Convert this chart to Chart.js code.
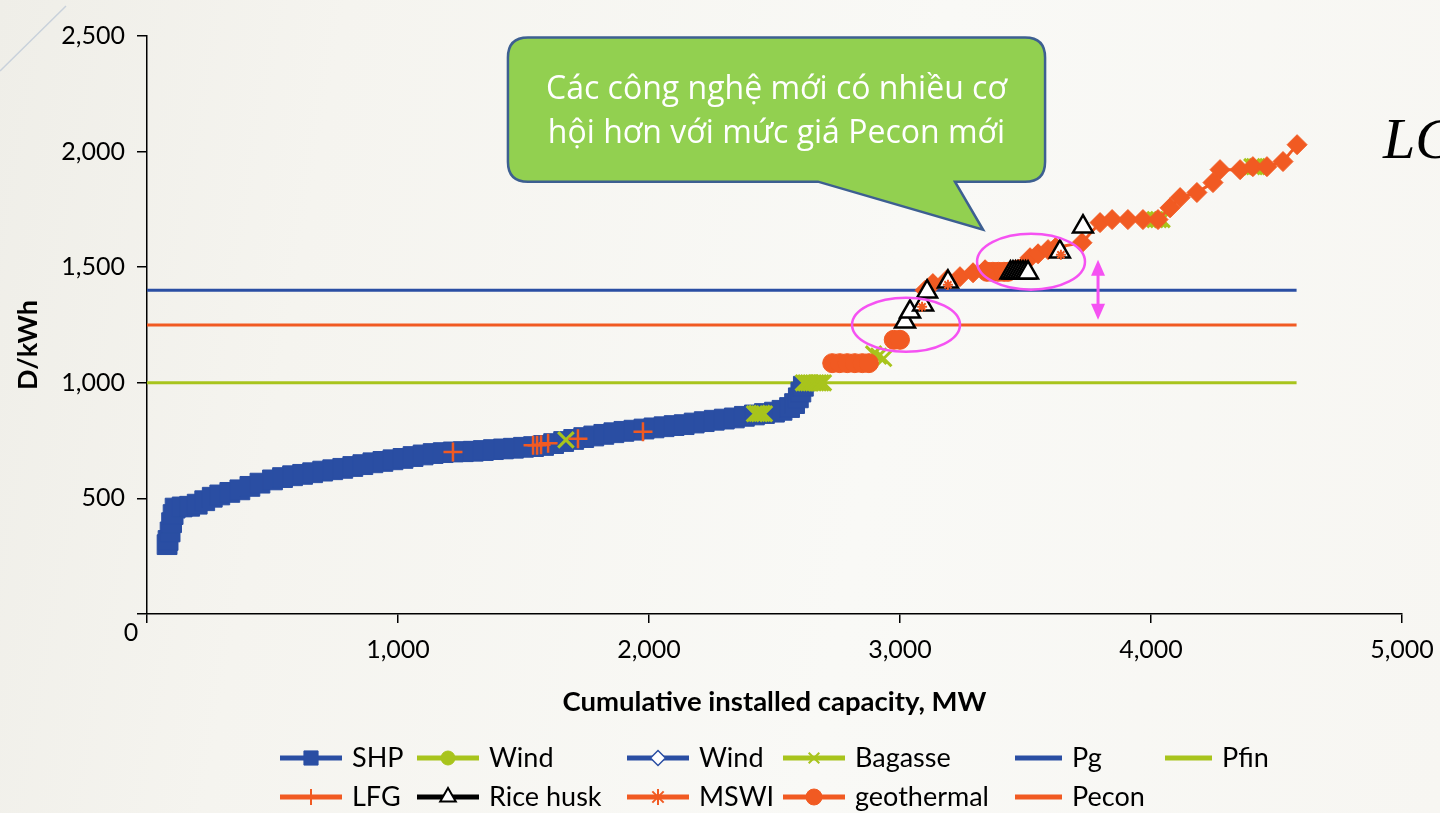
<!DOCTYPE html>
<html>
<head>
<meta charset="utf-8">
<script src="https://cdn.jsdelivr.net/npm/chart.js@4.4.1/dist/chart.umd.min.js"></script>
<style>
  html, body { margin: 0; padding: 0; }
  body {
    width: 1440px; height: 813px; overflow: hidden;
    background: linear-gradient(100deg, #EFEEE8 0%, #F5F4EF 22%, #F9F9F6 60%, #F7F6F2 100%);
  }
  #wrap { position: relative; width: 1440px; height: 813px; }
</style>
</head>
<body>
<div id="wrap"><canvas id="chart"></canvas></div>
<script>
// ---- axis ticks ----
const xTicks = [0, 1000, 2000, 3000, 4000, 5000];
const yTicks = [0, 500, 1000, 1500, 2000, 2500];

// ---- SHP supply curve (cumulative MW, D/kWh) ----
const shpMW = [80, 84, 92, 98, 104, 112, 140, 170, 200, 230, 260, 290, 330, 370, 410, 450, 500, 540, 580, 620,
  660, 700, 740, 780, 820, 860, 900, 940, 980, 1020, 1060, 1100, 1140, 1180, 1220, 1260, 1300, 1340, 1380, 1420,
  1460, 1500, 1540, 1580, 1620, 1660, 1700, 1740, 1780, 1820, 1860, 1900, 1940, 1980, 2020, 2060, 2100, 2140,
  2180, 2220, 2260, 2300, 2340, 2380, 2420, 2460, 2500, 2530, 2560, 2580, 2595, 2605, 2615];
const shpPrice = [300, 318, 355, 395, 430, 458, 463, 466, 475, 490, 505, 515, 526, 537, 552, 566, 580, 590, 598, 604,
  611, 618, 624, 630, 638, 646, 654, 660, 667, 673, 681, 688, 694, 698, 701, 702, 704, 707, 711, 714,
  717, 721, 724, 729, 737, 746, 755, 763, 770, 777, 784, 790, 795, 800, 805, 810, 815, 819,
  826, 832, 838, 843, 848, 855, 861, 867, 873, 881, 893, 910, 935, 960, 985];

// ---- wind (two series) ----
const windMW = [];
const windPrice = [];
const wind2MW = [];
const wind2Price = [];

// ---- bagasse ----
const bagasseMW = [1669, 2420, 2430, 2440, 2450, 2460, 2615, 2625, 2635, 2645, 2655, 2665, 2675, 2685, 2695,
  2895, 2915, 2935, 4016, 4030, 4044, 4402, 4412, 4422];
const bagassePrice = [753, 866, 868, 866, 868, 866, 1000, 1000, 1000, 1000, 1000, 1000, 1000, 1000, 1000,
  1125, 1115, 1105, 1706, 1706, 1706, 1935, 1935, 1935];

// ---- LFG ----
const lfgMW = [1219, 1538, 1554, 1570, 1598, 1717, 1976];
const lfgPrice = [701, 730, 730, 732, 738, 758, 788];

// ---- rice husk ----
const riceMW = [3020, 3040, 3092, 3108, 3191, 3440, 3450, 3460, 3470, 3480, 3490, 3500, 3510, 3637, 3729];
const ricePrice = [1264, 1307, 1338, 1394, 1437, 1476, 1476, 1476, 1476, 1476, 1476, 1476, 1476, 1567, 1675];

// ---- MSWI ----
const mswiMW = [3088, 3191, 3641];
const mswiPrice = [1329, 1424, 1554];

// ---- geothermal ----
const geoMW = [2730, 2760, 2790, 2820, 2850, 2876, 2975, 3000, 3347, 3370, 3392, 3414, 3430];
const geoPrice = [1085, 1085, 1085, 1085, 1085, 1085, 1186, 1186, 1480, 1480, 1480, 1480, 1480];

// ---- other renewable projects (orange diamonds) ----
const otherMW = [3100, 3131, 3187, 3239, 3291, 3339, 3518, 3550, 3590, 3620, 3725, 3797, 3845, 3908, 3968, 4028,
  4076, 4116, 4183, 4247, 4275, 4355, 4406, 4462, 4526, 4582];
const otherPrice = [1400, 1429, 1446, 1459, 1476, 1489, 1541, 1558, 1576, 1585, 1606, 1693, 1706, 1706, 1706, 1706,
  1757, 1801, 1823, 1866, 1922, 1922, 1935, 1935, 1957, 2030];

// ---- price levels (D/kWh) and their span in MW ----
const priceSpanMW = [0, 4580];
const pgPrice = [1400, 1400];
const pfinPrice = [1000, 1000];
const peconPrice = [1250, 1250];

// ---- annotation text ----
const calloutLines = ['Các công nghệ mới có nhiều cơ', 'hội hơn với mức giá Pecon mới'];
const yTitle = 'D/kWh';
const xTitle = 'Cumulative installed capacity, MW';
const cornerText = 'LC';

const BLUE = '#2A4EA3';
const GREEN = '#A8C41C';
const ORANGE = '#F15A22';
const MAGENTA = '#F552F2';
const FONT = 'Lato, "Open Sans", sans-serif';

const pts = (xs, ys) => xs.map((x, i) => ({ x, y: ys[i] }));
const fmt = v => v.toLocaleString('en-US');

const datasets = [
  { label: 'SHP', data: pts(shpMW, shpPrice), showLine: true, borderColor: BLUE, borderWidth: 5,
    pointStyle: 'rect', pointRadius: 14, pointBackgroundColor: BLUE, pointBorderColor: BLUE, pointBorderWidth: 1,
    order: 9, legendRadius: 10 },
  { label: 'Wind', data: pts(windMW, windPrice), showLine: true, borderColor: GREEN, borderWidth: 5,
    pointStyle: 'circle', pointRadius: 9, pointBackgroundColor: GREEN, pointBorderColor: GREEN, pointBorderWidth: 1,
    order: 8, legendRadius: 7 },
  { label: 'Wind', data: pts(wind2MW, wind2Price), showLine: true, borderColor: BLUE, borderWidth: 5,
    pointStyle: 'rectRot', pointRadius: 9, pointBackgroundColor: '#FFFFFF', pointBorderColor: BLUE, pointBorderWidth: 1.5,
    order: 8, legendRadius: 7.5 },
  { label: 'Bagasse', data: pts(bagasseMW, bagassePrice), showLine: false, borderColor: GREEN, borderWidth: 5,
    pointStyle: 'crossRot', pointRadius: 11, pointBackgroundColor: GREEN, pointBorderColor: GREEN, pointBorderWidth: 3,
    order: 7, legendRadius: 7.5, legendBorderWidth: 2 },
  { label: 'Pg', data: pts(priceSpanMW, pgPrice), showLine: true, borderColor: BLUE, borderWidth: 3,
    pointRadius: 0, order: 12 },
  { label: 'Pfin', data: pts(priceSpanMW, pfinPrice), showLine: true, borderColor: GREEN, borderWidth: 3,
    pointRadius: 0, order: 12 },
  { label: 'LFG', data: pts(lfgMW, lfgPrice), showLine: false, borderColor: ORANGE, borderWidth: 5,
    pointStyle: 'cross', pointRadius: 9.5, pointBackgroundColor: ORANGE, pointBorderColor: ORANGE, pointBorderWidth: 2.5,
    order: 6, legendRadius: 8, legendBorderWidth: 2 },
  { label: 'Rice husk', data: pts(riceMW, ricePrice), showLine: false, borderColor: '#000000', borderWidth: 5,
    pointStyle: 'triangle', pointRadius: 11.5, pointBackgroundColor: '#FFFFFF', pointBorderColor: '#000000', pointBorderWidth: 2.5,
    order: 3, legendRadius: 9, legendBorderWidth: 2 },
  { label: 'MSWI', data: pts(mswiMW, mswiPrice), showLine: false, borderColor: ORANGE, borderWidth: 5,
    pointStyle: 'star', pointRadius: 5, pointBackgroundColor: ORANGE, pointBorderColor: ORANGE, pointBorderWidth: 2,
    order: 2, legendRadius: 8 },
  { label: 'geothermal', data: pts(geoMW, geoPrice), showLine: false, borderColor: ORANGE, borderWidth: 5,
    pointStyle: 'circle', pointRadius: 9.5, pointBackgroundColor: ORANGE, pointBorderColor: ORANGE, pointBorderWidth: 1,
    order: 5, legendRadius: 8 },
  { label: 'Pecon', data: pts(priceSpanMW, peconPrice), showLine: true, borderColor: ORANGE, borderWidth: 3,
    pointRadius: 0, order: 12 },
  { label: 'Other', data: pts(otherMW, otherPrice), showLine: true, borderColor: ORANGE, borderWidth: 3,
    pointStyle: 'rectRot', pointRadius: 10, pointBackgroundColor: ORANGE, pointBorderColor: ORANGE, pointBorderWidth: 1,
    order: 4, inLegend: false }
];

// Annotations in data units (MW, D/kWh)
const highlightRings = [
  { cx: 3024, cy: 1251, rx: 215, ry: 117 },
  { cx: 3522, cy: 1524, rx: 215, ry: 121 }
];
const gapArrow = { x: 3789, from: 1273, to: 1532 };
const callout = { x0: 1438, x1: 3578, top: 2494, bottom: 1870, tailLeft: 2673, tailRight: 3219, tipX: 3331, tipY: 1662 };

const legendCols = [280, 417, 627, 783, 1015, 1165];
const legendRows = [758, 797];

const decor = {
  id: 'decor',
  beforeDraw(chart) {
    const ctx = chart.ctx;
    ctx.save();
    ctx.strokeStyle = '#C8D1DB';
    ctx.lineWidth = 1.5;
    ctx.beginPath();
    ctx.moveTo(0, 71);
    ctx.lineTo(66, 6);
    ctx.stroke();
    ctx.restore();
  },
  afterDatasetsDraw(chart) {
    const ctx = chart.ctx;
    const xs = chart.scales.x, ys = chart.scales.y;
    ctx.save();
    ctx.strokeStyle = MAGENTA;
    ctx.lineWidth = 2.5;
    highlightRings.forEach(r => {
      const cx = xs.getPixelForValue(r.cx), cy = ys.getPixelForValue(r.cy);
      const rx = Math.abs(xs.getPixelForValue(r.cx + r.rx) - cx);
      const ry = Math.abs(ys.getPixelForValue(r.cy + r.ry) - cy);
      ctx.beginPath();
      ctx.ellipse(cx, cy, rx, ry, 0, 0, Math.PI * 2);
      ctx.stroke();
    });
    // double-headed arrow between Pg and the new price
    const ax = xs.getPixelForValue(gapArrow.x);
    const ay1 = ys.getPixelForValue(gapArrow.to), ay2 = ys.getPixelForValue(gapArrow.from);
    ctx.lineWidth = 3;
    ctx.beginPath();
    ctx.moveTo(ax, ay1 + 10);
    ctx.lineTo(ax, ay2 - 10);
    ctx.stroke();
    ctx.fillStyle = MAGENTA;
    ctx.beginPath();
    ctx.moveTo(ax, ay1); ctx.lineTo(ax - 7, ay1 + 16); ctx.lineTo(ax + 7, ay1 + 16); ctx.closePath();
    ctx.fill();
    ctx.beginPath();
    ctx.moveTo(ax, ay2); ctx.lineTo(ax - 7, ay2 - 16); ctx.lineTo(ax + 7, ay2 - 16); ctx.closePath();
    ctx.fill();
    ctx.restore();
  },
  afterDraw(chart) {
    const ctx = chart.ctx;
    const xs = chart.scales.x, ys = chart.scales.y;
    ctx.save();

    // origin label
    ctx.fillStyle = '#000';
    ctx.font = '25px ' + FONT;
    ctx.textAlign = 'center';
    ctx.textBaseline = 'middle';
    ctx.fillText('0', 131, 633);

    // y axis title
    ctx.save();
    ctx.translate(28, 345);
    ctx.rotate(-Math.PI / 2);
    ctx.font = 'bold 27px ' + FONT;
    ctx.fillText(yTitle, 0, 0);
    ctx.restore();

    // speech bubble
    const bx0 = xs.getPixelForValue(callout.x0), bx1 = xs.getPixelForValue(callout.x1);
    const by0 = ys.getPixelForValue(callout.top), by1 = ys.getPixelForValue(callout.bottom);
    const tl = xs.getPixelForValue(callout.tailLeft), tr = xs.getPixelForValue(callout.tailRight);
    const tx = xs.getPixelForValue(callout.tipX), ty = ys.getPixelForValue(callout.tipY);
    const r = 20;
    ctx.beginPath();
    ctx.moveTo(bx0 + r, by0);
    ctx.lineTo(bx1 - r, by0);
    ctx.quadraticCurveTo(bx1, by0, bx1, by0 + r);
    ctx.lineTo(bx1, by1 - r);
    ctx.quadraticCurveTo(bx1, by1, bx1 - r, by1);
    ctx.lineTo(tr, by1);
    ctx.lineTo(tx, ty);
    ctx.lineTo(tl, by1);
    ctx.lineTo(bx0 + r, by1);
    ctx.quadraticCurveTo(bx0, by1, bx0, by1 - r);
    ctx.lineTo(bx0, by0 + r);
    ctx.quadraticCurveTo(bx0, by0, bx0 + r, by0);
    ctx.closePath();
    ctx.fillStyle = '#92D050';
    ctx.fill();
    ctx.strokeStyle = '#3D5F91';
    ctx.lineWidth = 2.5;
    ctx.stroke();
    ctx.fillStyle = '#FFFFFF';
    ctx.font = '32px "Open Sans", "Noto Sans", sans-serif';
    ctx.textAlign = 'center';
    ctx.textBaseline = 'alphabetic';
    const cxm = (bx0 + bx1) / 2;
    ctx.fillText(calloutLines[0], cxm, by0 + 62);
    ctx.fillText(calloutLines[1], cxm, by0 + 106);

    // corner heading fragment
    ctx.fillStyle = '#000';
    ctx.font = 'italic 58px "Liberation Serif", "DejaVu Serif", serif';
    ctx.textAlign = 'left';
    ctx.fillText(cornerText, 1383, 158);

    // legend
    ctx.font = '27px ' + FONT;
    ctx.textAlign = 'left';
    ctx.textBaseline = 'alphabetic';
    const items = chart.data.datasets.filter(d => d.inLegend !== false);
    items.forEach((d, i) => {
      const x0 = legendCols[i % 6];
      const y = legendRows[Math.floor(i / 6)];
      const hasMarker = d.pointRadius > 0;
      const len = hasMarker ? 62 : 47;
      ctx.strokeStyle = d.borderColor;
      ctx.lineWidth = 5;
      ctx.beginPath();
      ctx.moveTo(x0, y);
      ctx.lineTo(x0 + len, y);
      ctx.stroke();
      if (hasMarker) {
        const bw = d.legendBorderWidth || d.pointBorderWidth;
        ctx.fillStyle = d.pointBackgroundColor;
        ctx.strokeStyle = d.pointBorderColor;
        ctx.lineWidth = bw;
        Chart.helpers.drawPoint(ctx, {
          pointStyle: d.pointStyle, radius: d.legendRadius, rotation: 0, borderWidth: bw
        }, x0 + len / 2, y);
      }
      ctx.fillStyle = '#000';
      ctx.fillText(d.label, x0 + len + 10, y + 9);
    });
    ctx.restore();
  }
};

new Chart(document.getElementById('chart'), {
  type: 'scatter',
  data: { datasets },
  options: {
    responsive: true,
    maintainAspectRatio: false,
    devicePixelRatio: 1,
    animation: false,
    events: [],
    layout: { padding: { left: 0, top: 36, right: 38, bottom: 93 } },
    plugins: { legend: { display: false }, tooltip: { enabled: false } },
    scales: {
      x: {
        type: 'linear', min: 0, max: 5000,
        afterBuildTicks: s => { s.ticks = xTicks.map(v => ({ value: v })); },
        afterFit: s => { s.height = 106; s.paddingLeft = 0; s.paddingRight = 0; },
        ticks: { callback: v => (v === 0 ? '' : fmt(v)), color: '#000', font: { family: FONT, size: 25 }, padding: 12, maxRotation: 0 },
        grid: { drawOnChartArea: false, drawTicks: true, tickLength: 9, color: '#000', lineWidth: 1.5 },
        border: { display: true, color: '#000', width: 1.5 },
        title: { display: true, text: xTitle, color: '#000', font: { family: FONT, size: 27.5, weight: 'bold' }, padding: { top: 0, bottom: 1 } }
      },
      y: {
        type: 'linear', min: 0, max: 2500,
        afterBuildTicks: s => { s.ticks = yTicks.map(v => ({ value: v })); },
        afterFit: s => { s.width = 147; s.paddingTop = 0; s.paddingBottom = 0; },
        ticks: { callback: v => (v === 0 ? '' : fmt(v)), color: '#000', font: { family: FONT, size: 25 }, padding: 12 },
        grid: { drawOnChartArea: false, drawTicks: true, tickLength: 10, color: '#000', lineWidth: 1.5 },
        border: { display: true, color: '#000', width: 1.5 }
      }
    }
  },
  plugins: [decor]
});
</script>
</body>
</html>
